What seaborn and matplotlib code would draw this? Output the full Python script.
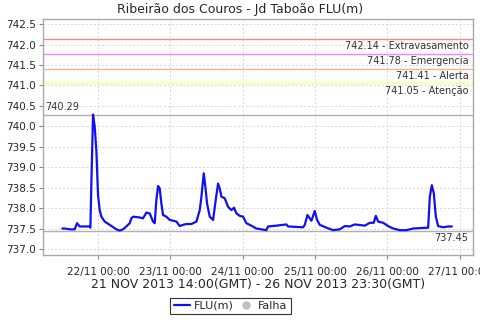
import matplotlib
matplotlib.use("Agg")
import matplotlib.pyplot as plt
from matplotlib.lines import Line2D
import seaborn as sns
import pandas as pd
import numpy as np

# hours since 2013-11-21 00:00 (GMT) and level (m)
hours = [12.17, 12.94, 14.6, 16.26, 17.03, 17.92, 21.24, 21.46, 21.79, 22.34, 22.89, 23.45,
         24.0, 24.55, 25.11, 26.21, 27.87, 30.08, 31.19, 32.29, 33.95, 34.51, 35.06, 35.61,
         37.82, 38.93, 40.04, 41.14, 42.25, 42.80, 43.35, 43.91, 44.46, 45.01, 45.57, 46.67,
         47.78, 48.88, 49.99, 51.10, 52.20, 53.31, 54.97, 56.63, 57.73, 58.29, 59.06, 59.61,
         60.17, 61.05, 62.16, 63.04, 63.82, 64.37, 64.92, 66.03, 67.13, 68.24, 69.12, 69.90,
         71.00, 72.11, 73.21, 74.32, 76.53, 79.85, 80.40, 83.17, 86.48, 87.04, 92.01, 92.57,
         93.45, 94.78, 95.88, 96.66, 97.55, 99.76, 101.97, 104.18, 105.84, 107.50, 109.16,
         112.48, 114.14, 115.46, 116.13, 116.90, 118.56, 120.22, 121.88, 124.09, 126.30,
         128.52, 130.73, 133.49, 134.05, 134.71, 135.37, 136.04, 136.81, 138.47, 140.13, 141.35]
level = [737.50, 737.50, 737.48, 737.48, 737.63, 737.55, 737.55, 737.52, 738.6, 740.29, 740.0, 739.4,
         738.32, 737.95, 737.79, 737.67, 737.59, 737.48, 737.45, 737.48, 737.59, 737.63, 737.75, 737.79,
         737.77, 737.75, 737.89, 737.87, 737.67, 737.63, 738.2, 738.54, 738.48, 738.11, 737.83, 737.79,
         737.71, 737.69, 737.67, 737.56, 737.59, 737.61, 737.61, 737.67, 737.95, 738.28, 738.85, 738.52,
         738.11, 737.79, 737.71, 738.2, 738.6, 738.48, 738.28, 738.24, 738.03, 737.95, 738.01, 737.87,
         737.81, 737.79, 737.63, 737.59, 737.50, 737.46, 737.55, 737.57, 737.60, 737.55, 737.53, 737.59,
         737.83, 737.69, 737.93, 737.71, 737.59, 737.52, 737.46, 737.48, 737.56, 737.55, 737.60,
         737.57, 737.64, 737.64, 737.81, 737.67, 737.64, 737.56, 737.50, 737.46, 737.46,
         737.50, 737.51, 737.52, 738.28, 738.56, 738.36, 737.79, 737.56, 737.53, 737.55, 737.55]

thresholds = [742.14, 741.78, 741.41, 741.05]
threshold_names = ["Extravasamento", "Emergencia", "Alerta", "Atenção"]
threshold_colors = ["#f08a8a", "#ff80ff", "#f0b890", "#ffff80"]
max_val = 740.29
min_val = 737.45

title = "Ribeirão dos Couros - Jd Taboão FLU(m)"
xlabel = "21 NOV 2013 14:00(GMT) - 26 NOV 2013 23:30(GMT)"
tick_days = ["22/11 00:00", "23/11 00:00", "24/11 00:00", "25/11 00:00", "26/11 00:00", "27/11 00:00"]

t0 = pd.Timestamp("2013-11-21 00:00")
df = pd.DataFrame({"time": [t0 + pd.Timedelta(hours=h) for h in hours], "FLU(m)": level})

sns.set_style("whitegrid")
plt.rcParams['font.family'] = ['DejaVu Sans']

fig = plt.figure(figsize=(4.8, 3.2), dpi=100)
ax = fig.add_axes([0.0896, 0.2016, 0.8954, 0.7381])

sns.lineplot(data=df, x="time", y="FLU(m)", ax=ax, color="#1010f0", linewidth=1.6)

for v, name, c in zip(thresholds, threshold_names, threshold_colors):
    ax.axhline(v, color=c, linewidth=1.0, zorder=1)
    ax.text(0.99, v - 0.06, f"{v:.2f} - {name}", transform=ax.get_yaxis_transform(),
            ha="right", va="top", fontsize=7, color="#333333")
ax.axhline(max_val, color="#b0b0b0", linewidth=1.0, zorder=1)
ax.axhline(min_val, color="#b0b0b0", linewidth=1.0, zorder=1)
ax.text(0.005, max_val + 0.05, f"{max_val:.2f}", transform=ax.get_yaxis_transform(),
        ha="left", va="bottom", fontsize=7, color="#333333")
ax.text(0.99, min_val - 0.06, f"{min_val:.2f}", transform=ax.get_yaxis_transform(),
        ha="right", va="top", fontsize=7, color="#333333")

ax.set_xlim(t0 + pd.Timedelta(hours=5.75), t0 + pd.Timedelta(hours=148.3))
ax.set_ylim(736.84, 742.62)
ax.set_yticks(np.arange(737.0, 742.51, 0.5))
ax.yaxis.set_major_formatter(matplotlib.ticker.FormatStrFormatter("%.1f"))
ax.set_xticks([t0 + pd.Timedelta(days=d) for d in range(1, 7)])
ax.set_xticklabels(tick_days)

ax.tick_params(axis="both", labelsize=7.5, length=3, color="#888888", pad=2)
ax.tick_params(axis="x", pad=5)
ax.tick_params(bottom=True, left=True)
ax.grid(True, linestyle=(0, (2, 2)), color="#d8d8d8", linewidth=0.7)
for s in ax.spines.values():
    s.set_color("#aaaaaa")
    s.set_linewidth(1.0)
ax.set_ylabel("")
ax.set_xlabel(xlabel, fontsize=9, labelpad=1)
fig.text(0.5, 1 - 10 / 320, title, ha="center", va="center", fontsize=9)

handles = [Line2D([0], [0], color="#1010f0", lw=1.6),
           Line2D([0], [0], color="#c0c0c0", marker="o", lw=0, markersize=5)]
leg = fig.legend(handles, ["FLU(m)", "Falha"], loc="center", bbox_to_anchor=(0.48, 0.044),
                 ncol=2, fontsize=8, frameon=True, fancybox=False, handlelength=1.5,
                 handletextpad=0.3, columnspacing=0.4, borderpad=0.3)
leg.get_frame().set_edgecolor("black")
leg.get_frame().set_linewidth(0.8)

fig.savefig("out.png", dpi=100)
